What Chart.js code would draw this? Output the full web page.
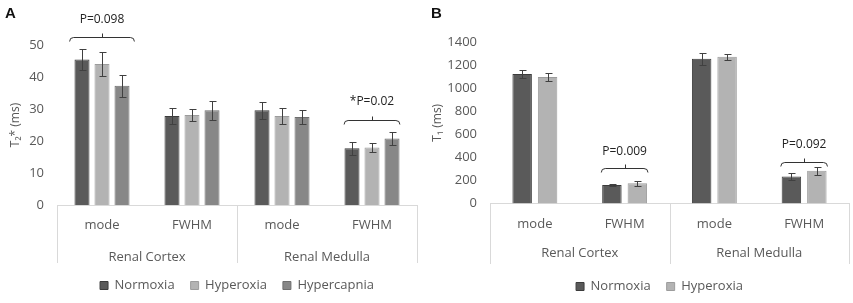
<!DOCTYPE html>
<html><head><meta charset="utf-8">
<script src="https://cdn.jsdelivr.net/npm/chart.js@4.4.1/dist/chart.umd.min.js"></script>
<style>
html,body{margin:0;padding:0;background:#fff;width:853px;height:303px;overflow:hidden;}
#wa{position:absolute;left:0;top:0;width:430px;height:303px}
#wb{position:absolute;left:430px;top:0;width:423px;height:303px}
.lbl{position:absolute;font:bold 15px 'Liberation Sans',Arial,sans-serif;color:#111}
</style></head><body>
<div id="wa"><canvas id="ca" width="430" height="303"></canvas></div>
<div id="wb"><canvas id="cb" width="423" height="303"></canvas></div>
<div class="lbl" style="left:5px;top:4px">A</div>
<div class="lbl" style="left:431px;top:4px">B</div>
<script>
// ---------- data ----------
const categories = ['mode', 'FWHM', 'mode', 'FWHM'];
const groups = ['Renal Cortex', 'Renal Medulla'];
const seriesNames = ['Normoxia', 'Hyperoxia', 'Hypercapnia'];

// Panel A: T2* (ms)
const normoxiaT2 = [45.5, 27.8, 29.6, 17.7];
const normoxiaT2Err = [3.2, 2.4, 2.6, 2.0];
const hyperoxiaT2 = [44.1, 28.1, 27.8, 18.0];
const hyperoxiaT2Err = [3.8, 1.9, 2.6, 1.5];
const hypercapniaT2 = [37.3, 29.6, 27.5, 20.8];
const hypercapniaT2Err = [3.4, 2.9, 2.1, 2.0];
const ticksA = [0, 10, 20, 30, 40, 50];

// Panel B: T1 (ms)
const normoxiaT1 = [1123, 161, 1255, 234];
const normoxiaT1Err = [38, 12, 52, 32];
const hyperoxiaT1 = [1097, 175, 1272, 283];
const hyperoxiaT1Err = [35, 20, 25, 35];
const ticksB = [0, 200, 400, 600, 800, 1000, 1200, 1400];

// significance annotations
const pLabelsA = ['P=0.098', '*P=0.02'];
const pCatsA = [0, 3];
const pLevelsA = [52.6, 26.6];
const pTextLevelsA = [57.8, 32.3];
const pLabelsB = ['P=0.009', 'P=0.092'];
const pCatsB = [1, 3];
const pLevelsB = [312, 362];
const pTextLevelsB = [449, 510];

// ---------- styles ----------
const fills = ['#5a5a5a', '#b3b3b3', '#878787'];
const borders = ['#3c3c3c', '#9c9c9c', '#6e6e6e'];
const txt = '#595959';
const FONT = "'Open Sans', 'Noto Sans', sans-serif";

const errorBars = {
  id: 'errorBars',
  afterDatasetsDraw(chart, args, opts) {
    const ctx = chart.ctx, y = chart.scales.y;
    ctx.save();
    ctx.strokeStyle = opts.color; ctx.lineWidth = 1;
    chart.data.datasets.forEach((ds, i) => {
      const meta = chart.getDatasetMeta(i);
      meta.data.forEach((bar, j) => {
        const v = ds.data[j], e = ds.errors[j];
        const x = Math.round(bar.x) + 0.5;
        const yt = Math.round(y.getPixelForValue(v + e)) + 0.5;
        const yb = Math.round(y.getPixelForValue(v - e)) + 0.5;
        ctx.beginPath();
        ctx.moveTo(x, yt); ctx.lineTo(x, yb);
        ctx.moveTo(x - opts.cap, yt); ctx.lineTo(x + opts.cap + 1, yt);
        ctx.moveTo(x - opts.cap, yb); ctx.lineTo(x + opts.cap + 1, yb);
        ctx.stroke();
      });
    });
    ctx.restore();
  }
};

const extras = {
  id: 'extras',
  afterLayout(chart, args, opts) {
    const lg = chart.legend;
    if (lg && opts.legendShift) { lg.left += opts.legendShift; lg.right += opts.legendShift; }
  },
  afterDraw(chart, args, opts) {
    const ctx = chart.ctx, x = chart.scales.x, x2 = chart.scales.x2, y = chart.scales.y;
    ctx.save();
    // category group separators
    ctx.strokeStyle = '#d9d9d9'; ctx.lineWidth = 1;
    const mid = (x.getPixelForValue(1) + x.getPixelForValue(2)) / 2;
    [x.left, mid, x.right].forEach(px => {
      const xx = Math.round(px) + 0.5;
      ctx.beginPath(); ctx.moveTo(xx, x.top); ctx.lineTo(xx, x2.bottom); ctx.stroke();
    });
    // brackets
    ctx.strokeStyle = '#333'; ctx.fillStyle = '#222';
    ctx.font = "12px " + FONT; ctx.textAlign = 'center'; ctx.textBaseline = 'middle';
    const step = x.getPixelForValue(1) - x.getPixelForValue(0);
    opts.items.forEach(it => {
      const xc = x.getPixelForValue(it.cat);
      const half = it.span * step;
      const x1 = xc - half, xr = xc + half;
      const yl = Math.round(y.getPixelForValue(it.level)) + 0.5;
      ctx.beginPath();
      ctx.moveTo(x1, yl + 4);
      ctx.quadraticCurveTo(x1, yl, x1 + 4, yl);
      ctx.lineTo(xr - 4, yl);
      ctx.quadraticCurveTo(xr, yl, xr, yl + 4);
      ctx.moveTo(Math.round(xc) + 0.5, yl); ctx.lineTo(Math.round(xc) + 0.5, yl - 4);
      ctx.stroke();
      ctx.fillText(it.text, xc, y.getPixelForValue(it.textLevel));
    });
    ctx.restore();
  }
};

function makeChart(id, datasets, yTicks, yMax, yTitle, leftW, pad, catPct, barPct, annots, span, titlePad, xH, x2H, xPad, x2Pad, legendShift) {
  return new Chart(document.getElementById(id), {
    type: 'bar',
    data: {
      labels: categories,
      datasets: datasets.map((d, i) => ({
        label: seriesNames[i], data: d.values, errors: d.errors,
        backgroundColor: fills[i], borderColor: borders[i], borderWidth: 1,
        categoryPercentage: catPct, barPercentage: barPct
      }))
    },
    options: {
      responsive: false, animation: false,
      layout: { padding: pad },
      scales: {
        x: {
          afterFit: s => { s.height = xH; },
          grid: { display: false, drawTicks: false },
          border: { display: true, color: '#d9d9d9' },
          ticks: { color: txt, font: { family: FONT, size: 13 }, padding: xPad }
        },
        x2: {
          type: 'category', labels: groups, position: 'bottom', offset: true,
          afterFit: s => { s.height = x2H; },
          grid: { display: false, drawTicks: false },
          border: { display: false },
          ticks: { color: txt, font: { family: FONT, size: 13 }, padding: x2Pad }
        },
        y: {
          min: 0, max: yMax,
          afterBuildTicks: s => { s.ticks = yTicks.map(v => ({ value: v })); },
          afterFit: s => { s.width = leftW; },
          grid: { display: false, drawTicks: false },
          border: { display: false },
          ticks: { color: txt, font: { family: FONT, size: 13 }, padding: 13, callback: v => String(v) },
          title: { display: true, text: yTitle, color: txt, font: { family: FONT, size: 12 }, padding: { top: titlePad, bottom: 0 } }
        }
      },
      plugins: {
        legend: {
          position: 'bottom', fullSize: false,
          labels: { color: txt, font: { family: FONT, size: 13 }, boxWidth: 8, boxHeight: 8, padding: 16 }
        },
        tooltip: { enabled: false },
        errorBars: { color: '#404040', cap: 3 },
        extras: { legendShift: legendShift, items: annots.labels.map((t, i) => ({ text: t, cat: annots.cats[i], level: annots.levels[i], textLevel: annots.textLevels[i], span: span[i] })) }
      }
    },
    plugins: [errorBars, extras]
  });
}

makeChart('ca',
  [{ values: normoxiaT2, errors: normoxiaT2Err }, { values: hyperoxiaT2, errors: hyperoxiaT2Err }, { values: hypercapniaT2, errors: hypercapniaT2Err }],
  ticksA, 50, 'T\u2082* (ms)', 57, { left: 0, right: 13, top: 45, bottom: 1 }, 0.667, 0.75,
  { labels: pLabelsA, cats: pCatsA, levels: pLevelsA, textLevels: pTextLevelsA }, [0.36, 0.31], 8,
  27, 31, 12, 17, 0);

makeChart('cb',
  [{ values: normoxiaT1, errors: normoxiaT1Err }, { values: hyperoxiaT1, errors: hyperoxiaT1Err }],
  ticksB, 1400, 'T\u2081 (ms)', 60, { left: 0, right: 4, top: 42, bottom: 0 }, 0.567, 0.765,
  { labels: pLabelsB, cats: pCatsB, levels: pLevelsB, textLevels: pTextLevelsB }, [0.26, 0.26], 0,
  28, 32.5, 13, 14, -10);
</script>
</body></html>
